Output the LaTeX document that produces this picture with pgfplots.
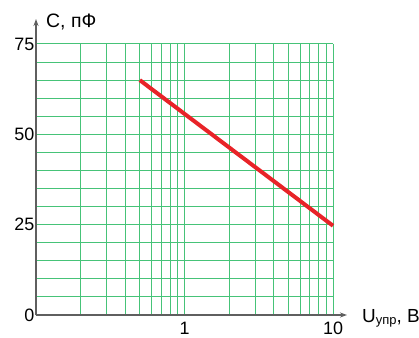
\documentclass[border=0pt]{standalone}
\usepackage{fontspec}
\setmainfont{Liberation Sans}
\usepackage{pgfplots}
\pgfplotsset{compat=1.18}
\usetikzlibrary{arrows.meta}
\definecolor{gridgreen}{RGB}{70,195,120}
\definecolor{curvered}{RGB}{232,35,40}
\definecolor{axisgray}{RGB}{95,95,95}
\begin{document}
\begin{tikzpicture}
\begin{axis}[
  name=ax,
  at={(0,0)}, anchor=south west,
  scale only axis, width=297bp, height=271bp,
  xmode=log, xmin=0.1, xmax=10, ymin=0, ymax=75,
  axis lines=left,
  axis line style={axisgray, line width=1.2bp},
  x axis line style={-{Stealth[length=7bp,width=5bp]}, shorten >=-14bp},
  y axis line style={-{Stealth[length=7bp,width=5bp]}, shorten >=-25bp},
  xtick={0.1,1,10}, xticklabels={,1,10},
  minor xtick={0.2,0.3,0.4,0.5,0.6,0.7,0.8,0.9,2,3,4,5,6,7,8,9},
  ytick={0,25,50,75}, minor ytick={5,10,15,20,30,35,40,45,55,60,65,70},
  grid=both,
  major grid style={gridgreen, line width=1bp},
  minor grid style={gridgreen, line width=1bp},
  major tick length=0pt, minor tick length=0pt,
  tick label style={font=\fontsize{18}{20}\selectfont, text=black},
  yticklabel style={inner sep=1.5bp},
  xticklabel style={inner sep=1bp, yshift=-6bp},
  /pgf/number format/assume math mode=true,
  clip=false,
]
\addplot[curvered, line width=4bp] coordinates {(0.5,65) (10,24.7)};
\end{axis}
\node[anchor=base west, font=\fontsize{19.5}{22}\selectfont, inner sep=0pt] at ([xshift=10bp,yshift=16bp]ax.north west) {C, пФ};
\node[anchor=base west, font=\fontsize{19}{22}\selectfont, inner sep=0pt] at ([xshift=29bp,yshift=-7bp]ax.south east) {U\raisebox{-2.5bp}{\fontsize{13}{14}\selectfont упр}, В};
\pgfresetboundingbox
\path (-36bp,-23bp) rectangle (383bp,315bp);
\end{tikzpicture}
\end{document}
